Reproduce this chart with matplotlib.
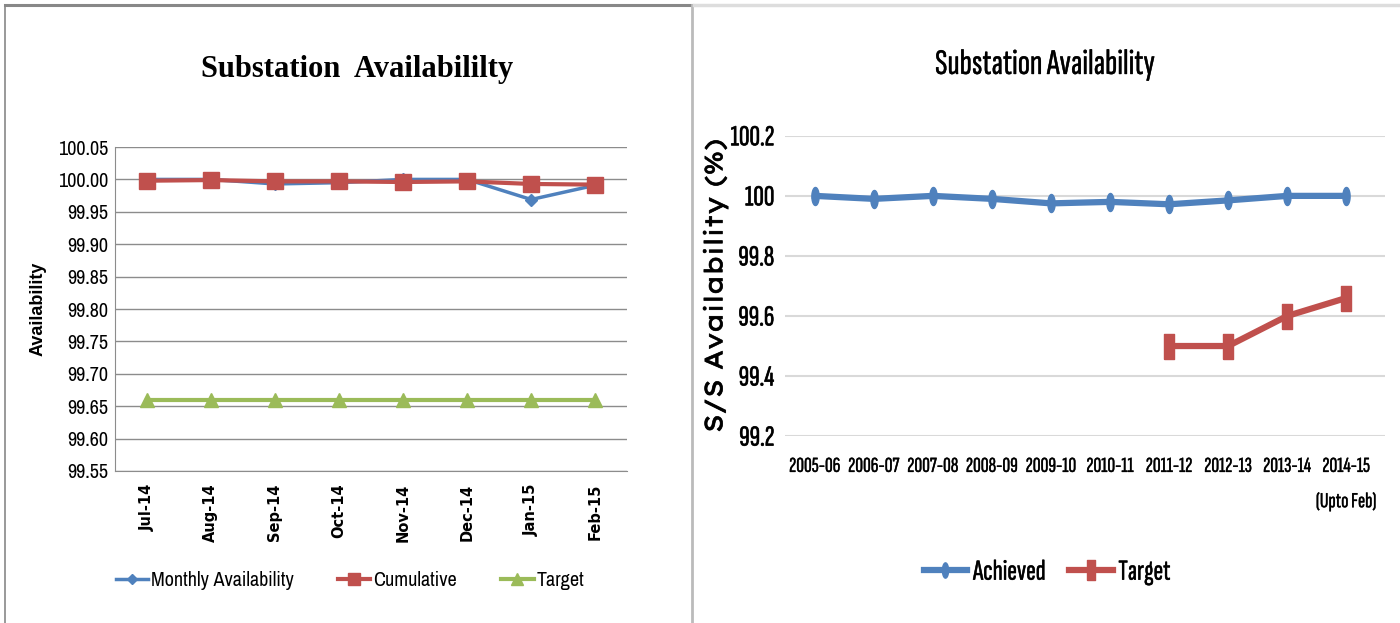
import numpy as np
import matplotlib
matplotlib.use("Agg")
import matplotlib.pyplot as plt
from matplotlib.lines import Line2D
from matplotlib import font_manager as fm
import matplotlib.patheffects as pe

# ---------------- data ----------------
months = ["Jul-14", "Aug-14", "Sep-14", "Oct-14", "Nov-14", "Dec-14", "Jan-15", "Feb-15"]
monthly = [100.00, 100.00, 99.993, 99.995, 100.00, 100.00, 99.969, 99.991]
cumulative = [99.998, 99.999, 99.997, 99.997, 99.996, 99.997, 99.993, 99.992]
target_m = [99.66, 99.66, 99.66, 99.66, 99.66, 99.66, 99.66, 99.66]
left_yticks = [99.55, 99.60, 99.65, 99.70, 99.75, 99.80, 99.85, 99.90, 99.95, 100.00, 100.05]

years = ["2005-06", "2006-07", "2007-08", "2008-09", "2009-10", "2010-11",
         "2011-12", "2012-13", "2013-14", "2014-15\n(Upto Feb)"]
achieved = [100.00, 99.99, 100.00, 99.99, 99.975, 99.98, 99.972, 99.985, 100.00, 100.00]
target_y = [np.nan, np.nan, np.nan, np.nan, np.nan, np.nan, 99.50, 99.50, 99.60, 99.66]
right_yticks = [99.2, 99.4, 99.6, 99.8, 100.0, 100.2]
right_ytick_labels = ["99.2", "99.4", "99.6", "99.8", "100", "100.2"]

BLUE = "#4F81BD"
RED = "#C0504D"
GREEN = "#9BBB59"

_installed = set(f.name for f in fm.fontManager.ttflist)
def pick(*names):
    fams = [n for n in names if n in _installed]
    return fams[:1] + ["DejaVu Sans"]

NARROW_R = pick("Sofia Sans Extra Condensed", "Saira Extra Condensed", "Barlow Condensed",
                "Archivo Narrow")
NARROW_L = pick("Archivo Narrow", "Asap Condensed", "Barlow Semi Condensed", "Carlito")
SERIF = pick("Liberation Serif", "Tinos")
ARIAL = pick("Liberation Sans", "Arimo")
WIDE = pick("Lexend Exa", "Lexend Giga", "Lexend")

def bolden(w):
    return [pe.withStroke(linewidth=w, foreground="#1A1A1A")]

fig = plt.figure(figsize=(14, 6.23), dpi=100)

# ---------------- panel borders ----------------
W, H = 1400, 623
def fx(x): return x / W
def fy(y): return 1 - y / H
fig.add_artist(Line2D([fx(5), fx(692)], [fy(5), fy(5)], color="#888888", lw=2.2))
fig.add_artist(Line2D([fx(5), fx(5)], [fy(5), fy(623)], color="#888888", lw=1.2))
fig.add_artist(Line2D([fx(692), fx(692)], [fy(5), fy(623)], color="#BBBBBB", lw=2.0))
fig.add_artist(Line2D([fx(694), fx(1400)], [fy(5), fy(5)], color="#DDDDDD", lw=2.5))

# ---------------- left chart ----------------
axL = fig.add_axes([0.082, 0.244, 0.366, 0.520])
x = np.arange(len(months))
axL.plot(x, monthly, color=BLUE, lw=2.5, marker="D", ms=6, zorder=3)
axL.plot(x, cumulative, color=RED, lw=3, marker="s", ms=11, zorder=4)
axL.plot(x, target_m, color=GREEN, lw=3, marker="^", ms=10, zorder=3)
axL.set_xlim(-0.5, len(months) - 0.5)
axL.set_ylim(99.55, 100.05)
axL.set_yticks(left_yticks)
axL.set_yticklabels([f"{v:.2f}" for v in left_yticks], family=NARROW_L, fontsize=14.5)
axL.set_xticks(x)
axL.set_xticklabels(months, rotation=90, family="DejaVu Sans", fontweight="bold", fontsize=10.5)
axL.yaxis.grid(True, color="#8C8C8C", lw=1.0)
axL.set_axisbelow(True)
for s in ["top", "right"]:
    axL.spines[s].set_visible(False)
for s in ["left", "bottom"]:
    axL.spines[s].set_color("#8C8C8C")
axL.tick_params(axis="y", length=0, pad=5)
axL.tick_params(axis="x", length=0, pad=9)
axL.set_ylabel("Availability", family=ARIAL, fontweight="bold", fontsize=13, labelpad=8)
fig.text(fx(357), fy(70), "Substation  Availabililty", ha="center", va="center",
         family=SERIF, fontweight="bold", fontsize=22)

legL = [Line2D([0], [0], color=BLUE, lw=2.5, marker="D", ms=5),
        Line2D([0], [0], color=RED, lw=3, marker="s", ms=9),
        Line2D([0], [0], color=GREEN, lw=3, marker="^", ms=8)]
fig.legend(legL, ["Monthly Availability", "Cumulative", "Target"],
           loc="center", bbox_to_anchor=(fx(350), fy(581)), ncol=3, frameon=False,
           prop={"family": NARROW_L, "size": 14.5}, handlelength=1.6, handletextpad=0.15,
           columnspacing=2.2)

# ---------------- right chart ----------------
axR = fig.add_axes([0.561, 0.300, 0.428, 0.482])
xr = np.arange(len(years))
t = np.linspace(0, 2 * np.pi, 40)
ellipse = np.column_stack([0.4 * np.cos(t), np.sin(t)])
bar = np.array([[-0.38, -1], [0.38, -1], [0.38, 1], [-0.38, 1], [-0.38, -1]])
axR.plot(xr, achieved, color=BLUE, lw=4.5, marker=ellipse, ms=13, zorder=3)
axR.plot(xr, target_y, color=RED, lw=4.5, marker=bar, ms=18, zorder=3)
axR.set_xlim(-0.5, len(years) - 0.5 + 0.15)
axR.set_ylim(99.2, 100.2)
axR.set_yticks(right_yticks)
axR.set_yticklabels(right_ytick_labels, family=NARROW_R, fontsize=21)
axR.set_xticks(xr)
axR.set_xticklabels(years, family=NARROW_R, fontsize=15.5)
for lab in axR.get_xticklabels():
    lab.set_linespacing(2.0)
    lab.set_path_effects(bolden(0.3))
for lab in axR.get_yticklabels():
    lab.set_path_effects(bolden(0.5))
axR.yaxis.grid(True, color="#D9D9D9", lw=1.5)
axR.set_axisbelow(True)
for s in axR.spines.values():
    s.set_visible(False)
axR.tick_params(axis="both", length=0)
axR.tick_params(axis="x", pad=15)
axR.tick_params(axis="y", pad=8)
yl = axR.set_ylabel("S/S Availability (%)", family=WIDE, fontsize=18, labelpad=2)
yl.set_path_effects(bolden(0.5))
fig.text(fx(1045), fy(65), "Substation Availability", ha="center", va="center",
         family=NARROW_R, fontsize=26, path_effects=bolden(0.3))

legR = [Line2D([0], [0], color=BLUE, lw=4.5, marker=ellipse, ms=11),
        Line2D([0], [0], color=RED, lw=4.5, marker=bar, ms=15)]
lg = fig.legend(legR, ["Achieved", "Target"], loc="center",
                bbox_to_anchor=(fx(1047), fy(572)), ncol=2, frameon=False,
                prop={"family": NARROW_R, "size": 21},
                handlelength=1.5, handletextpad=0.2, columnspacing=0.8)
for txt in lg.get_texts():
    txt.set_path_effects(bolden(0.35))

fig.savefig("out.png", dpi=100, facecolor="white")
